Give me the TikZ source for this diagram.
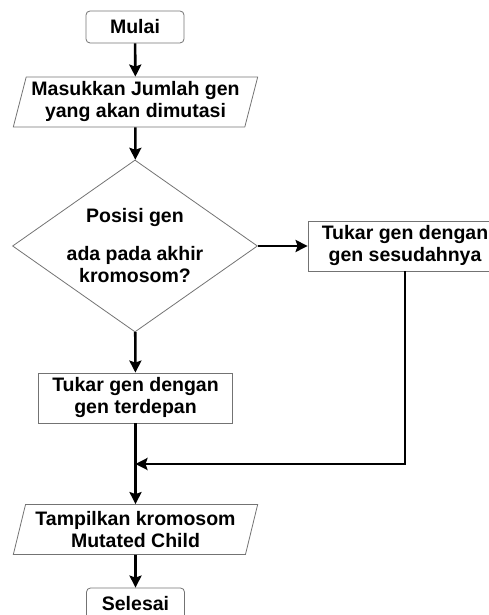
\documentclass[tikz,border=0pt]{standalone}
\usepackage{fontspec}
\setmainfont{Liberation Sans}
\usetikzlibrary{shapes.geometric,arrows.meta}
\tikzset{base/.style={draw=black!55,line width=0.8pt,align=center,font=\fontsize{19.5}{22}\selectfont\bfseries,inner sep=0pt},
    	terminal/.style={base,rectangle,rounded corners=4pt,minimum width=98pt,minimum height=32pt},
    	proses/.style={base,rectangle,minimum width=194pt,minimum height=50pt},
    	io/.style={base,trapezium,trapezium left angle=73,trapezium right angle=107,trapezium stretches=true,minimum width=245pt,minimum height=50pt},
    	keputusan/.style={base,diamond,shape aspect=1.4,minimum width=245pt,minimum height=172pt},
    	alur/.style={line width=2.6pt,-{Stealth[length=12pt,width=12pt,inset=2pt]}},
    	garis/.style={line width=2.6pt}}

\begin{document}
\begin{tikzpicture}[x=1pt,y=1pt]
			\useasboundingbox (0,0) rectangle (489,615);
			\node[terminal] (mulai) at (135,588) {Mulai};
			\node[io] (masuk) at (135.5,513) {Masukkan Jumlah gen\\yang akan dimutasi};
			\node[keputusan] (posisi) at (135,369) {Posisi gen\\[16pt]ada pada akhir\\kromosom?};
			\node[proses] (tukarB) at (405,369) {Tukar gen dengan\\gen sesudahnya};
			\node[proses] (tukarA) at (135.5,217) {Tukar gen dengan\\gen terdepan};
			\node[io] (tampil) at (135.5,85.5) {Tampilkan kromosom\\Mutated Child};
			\node[terminal] (selesai) at (135.5,11) {Selesai};
			\coordinate (gabung) at (135.5,151);
		
			\draw[alur] (mulai) -- (masuk);
			\draw[alur] (masuk) -- (posisi);
			\draw[alur] (posisi) -- (tukarB);
			\draw[alur] (posisi) -- (tukarA);
			\draw[garis] (tukarA) -- (gabung);
			\draw[alur] (tukarB.south) |- (gabung);
			\draw[alur] (gabung) -- (tampil);
			\draw[alur] (tampil) -- (selesai);
		\end{tikzpicture}
\end{document}
